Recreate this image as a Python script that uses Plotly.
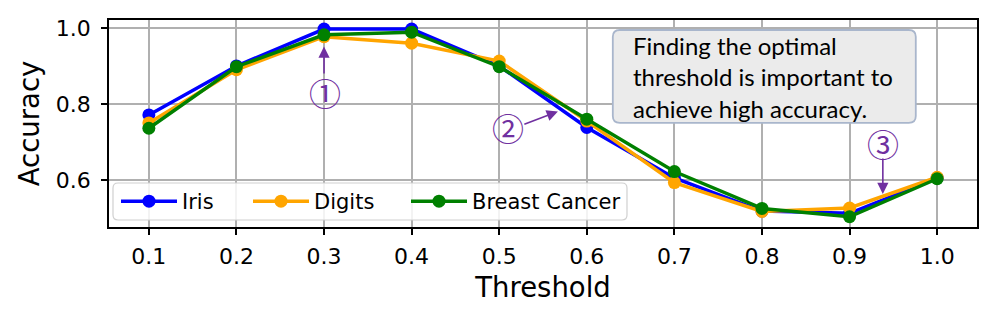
import plotly.graph_objects as go

thresholds = [0.1, 0.2, 0.3, 0.4, 0.5, 0.6, 0.7, 0.8, 0.9, 1.0]
iris = [0.771, 0.900, 0.997, 0.997, 0.900, 0.738, 0.605, 0.518, 0.512, 0.605]
digits = [0.750, 0.890, 0.977, 0.960, 0.913, 0.755, 0.593, 0.517, 0.526, 0.607]
breast_cancer = [0.736, 0.898, 0.982, 0.989, 0.898, 0.760, 0.622, 0.525, 0.503, 0.603]

series_names = ["Iris", "Digits", "Breast Cancer"]
series_values = [iris, digits, breast_cancer]
series_colors = ["blue", "orange", "green"]

x_title = "Threshold"
y_title = "Accuracy"
x_ticks = [0.1, 0.2, 0.3, 0.4, 0.5, 0.6, 0.7, 0.8, 0.9, 1.0]
y_ticks = [0.6, 0.8, 1.0]

note_lines = ["Finding the optimal", "threshold is important to", "achieve high accuracy."]
markers = ["\u2460", "\u2461", "\u2462"]

PURPLE = "#7030A0"
FONT = "DejaVu Sans"

# plot-area geometry (pixels) used to place legends in paper coordinates
L, R, T, B = 109, 977, 20, 227
W, H = R - L, B - T


def px_x(p):
    return (p - L) / W


def px_y(p):
    return (B - p) / H


fig = go.Figure()
legend_ids = ["legend", "legend2", "legend3"]
legend_left_px = [116, 248, 406]
for name, vals, col, lid in zip(series_names, series_values, series_colors, legend_ids):
    fig.add_trace(go.Scatter(
        x=thresholds, y=vals, name=name, mode="lines+markers",
        line=dict(color=col, width=3.5),
        marker=dict(color=col, size=13, line=dict(width=0)),
        legend=lid,
    ))

# legend frame (paper coordinates, rounded)
lx0, lx1, ly0, ly1 = px_x(113), px_x(627), px_y(220), px_y(183)
lrx, lry = 5 / W, 5 / H
lpath = (f"M{lx0+lrx},{ly0} L{lx1-lrx},{ly0} Q{lx1},{ly0} {lx1},{ly0+lry} "
         f"L{lx1},{ly1-lry} Q{lx1},{ly1} {lx1-lrx},{ly1} L{lx0+lrx},{ly1} "
         f"Q{lx0},{ly1} {lx0},{ly1-lry} L{lx0},{ly0+lry} Q{lx0},{ly0} {lx0+lrx},{ly0} Z")
fig.add_shape(type="path", path=lpath, xref="paper", yref="paper",
              fillcolor="rgba(255,255,255,0.85)", line=dict(color="#d0d0d0", width=1.2),
              layer="above")

# rounded note box (data coordinates)
bx0, bx1, by0, by1 = 0.6297, 0.9756, 0.750, 0.9947
rx, ry = 0.008, 0.018
path = (f"M{bx0+rx},{by0} L{bx1-rx},{by0} Q{bx1},{by0} {bx1},{by0+ry} "
        f"L{bx1},{by1-ry} Q{bx1},{by1} {bx1-rx},{by1} L{bx0+rx},{by1} "
        f"Q{bx0},{by1} {bx0},{by1-ry} L{bx0},{by0+ry} Q{bx0},{by0} {bx0+rx},{by0} Z")
fig.add_shape(type="path", path=path, xref="x", yref="y",
              fillcolor="#ebebeb", line=dict(color="#a9b6cc", width=1.8), layer="above")

for line, yv in zip(note_lines, [0.953, 0.871, 0.789]):
    fig.add_annotation(x=0.650, y=yv, xref="x", yref="y", text=line, showarrow=False,
                       xanchor="left", yanchor="middle",
                       font=dict(family="Lato", size=24, color="black"))

# circled markers with arrows: (label, label x, label y, tail x, tail y, head x, head y)
arrows = [
    (markers[0], 0.301, 0.832, 0.300, 0.876, 0.300, 0.951),
    (markers[1], 0.510, 0.739, 0.527, 0.745, 0.567, 0.780),
    (markers[2], 0.938, 0.697, 0.938, 0.660, 0.938, 0.563),
]
for txt, tx, ty, ax, ay, x, y in arrows:
    fig.add_annotation(x=x, y=y, ax=ax, ay=ay, xref="x", yref="y", axref="x", ayref="y",
                       text="", showarrow=True, arrowhead=2, arrowsize=1.4,
                       arrowwidth=1.6, arrowcolor=PURPLE, standoff=0, startstandoff=0)
    fig.add_annotation(x=tx, y=ty, xref="x", yref="y", text=txt, showarrow=False,
                       xanchor="center", yanchor="middle",
                       font=dict(family="Noto Sans CJK JP", size=32, color=PURPLE))

legend_common = dict(orientation="h", xanchor="left", yanchor="middle",
                     bgcolor="rgba(0,0,0,0)", borderwidth=0,
                     font=dict(family=FONT, size=21), itemwidth=56)

fig.update_layout(
    width=996, height=319,
    margin=dict(l=L, r=996 - R, t=T, b=319 - B),
    paper_bgcolor="white", plot_bgcolor="white",
    font=dict(family=FONT, color="black"),
    showlegend=True,
    legend=dict(x=px_x(legend_left_px[0]), y=px_y(201.5), **legend_common),
    legend2=dict(x=px_x(legend_left_px[1]), y=px_y(201.5), **legend_common),
    legend3=dict(x=px_x(legend_left_px[2]), y=px_y(201.5), **legend_common),
)
fig.update_xaxes(
    range=[0.0545, 1.0455], tickvals=x_ticks, tickformat=".1f",
    showgrid=True, gridcolor="#b0b0b0", gridwidth=1.5,
    showline=True, linecolor="black", linewidth=1.5, mirror=True,
    ticks="outside", ticklen=6, tickwidth=1.5, tickcolor="black",
    tickfont=dict(size=22), zeroline=False, automargin=False, ticklabelstandoff=3,
    title=dict(text=x_title, font=dict(size=27.5), standoff=10),
)
fig.update_yaxes(
    range=[0.476, 1.021], tickvals=y_ticks, tickformat=".1f",
    showgrid=True, gridcolor="#b0b0b0", gridwidth=1.5,
    showline=True, linecolor="black", linewidth=1.5, mirror=True,
    ticks="outside", ticklen=6, tickwidth=1.5, tickcolor="black",
    tickfont=dict(size=22), zeroline=False, automargin=False, ticklabelstandoff=6,
    title=dict(text=y_title, font=dict(size=27.5), standoff=8),
)

fig.write_html("out.html", config={"displayModeBar": False},
               post_script="document.body.style.margin='0';document.body.style.overflow='hidden';")
